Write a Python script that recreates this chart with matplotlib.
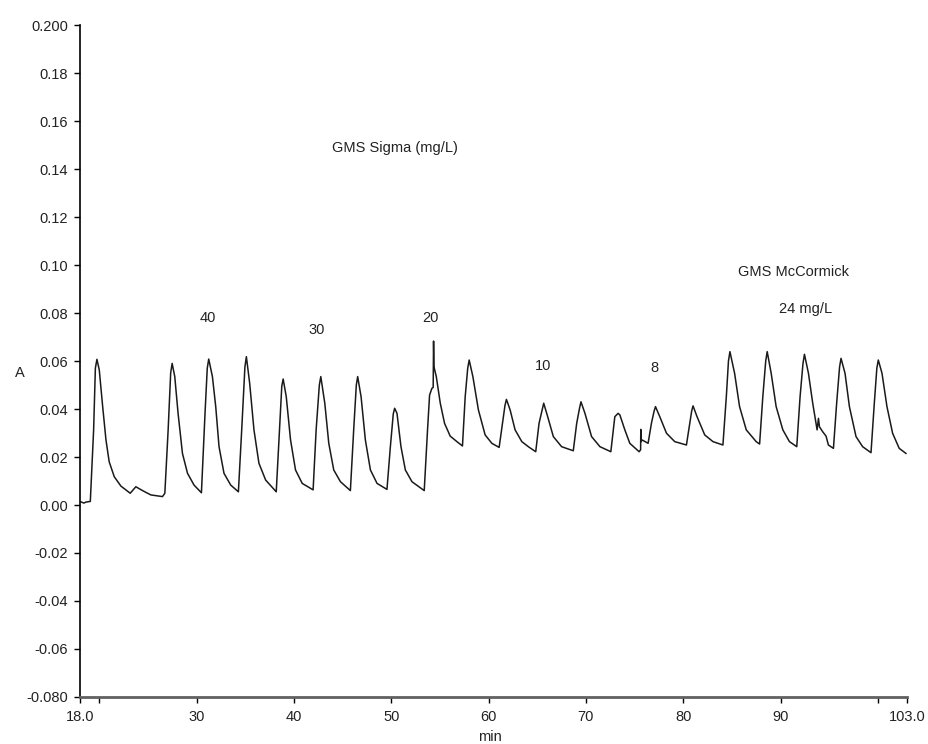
import matplotlib
matplotlib.use("Agg")
import matplotlib.pyplot as plt

plt.rcParams['font.family'] = ['Liberation Sans', 'DejaVu Sans']

# Trace vertices (time in min, absorbance A)
time_min = [
    18.10, 18.40, 18.60, 19.06, 19.40, 19.58, 19.74, 19.98, 20.33, 20.67, 21.00, 21.52, 22.20, 23.16,
    23.74, 24.43, 25.28, 26.48, 26.72, 27.06, 27.32, 27.47, 27.74, 28.08, 28.53, 29.05, 29.72,
    30.48, 30.85, 31.08, 31.23, 31.61, 31.95, 32.29, 32.80, 33.49, 34.28, 34.62, 34.95, 35.10, 35.44,
    35.88, 36.39, 37.08, 38.17, 38.51, 38.74, 38.88, 39.20, 39.64, 40.15, 40.84, 41.96, 42.27,
    42.60, 42.75, 43.16, 43.57, 44.08, 44.77, 45.79, 46.13, 46.40, 46.54, 46.89, 47.33, 47.85, 48.53,
    49.55, 49.90, 50.20, 50.34, 50.58, 50.99, 51.44, 52.12, 53.38, 53.72, 53.93, 54.17, 54.30,
    54.34, 54.38, 54.62, 55.03, 55.47, 56.05, 56.74, 57.31, 57.59, 57.85, 58.00, 58.38, 58.95,
    59.64, 60.33, 61.08, 61.42, 61.68, 61.83, 62.21, 62.72, 63.41, 64.08, 64.84, 65.18, 65.52, 65.66,
    66.07, 66.65, 67.50, 68.70, 69.05, 69.35, 69.49, 69.90, 70.58, 71.44, 72.56, 72.97, 73.31,
    73.49, 74.00, 74.51, 75.47, 75.62, 75.64, 75.67, 75.78, 76.39, 76.73, 77.00, 77.15, 77.59,
    78.28, 79.13, 80.33, 80.67, 80.87, 81.01, 81.42, 82.21, 83.06, 84.08, 84.43, 84.65, 84.80, 85.28,
    85.79, 86.48, 87.50, 87.85, 88.18, 88.48, 88.63, 89.04, 89.55, 90.24, 90.92, 91.67, 92.01,
    92.31, 92.46, 92.87, 93.31, 93.59, 93.76, 93.90, 94.00, 94.34, 94.68, 94.92, 95.44, 95.77,
    96.07, 96.22, 96.63, 97.08, 97.76, 98.44, 99.30, 99.64, 99.90, 100.05, 100.43, 100.94, 101.52,
    102.20, 102.89,
]
absorbance = [
    0.0013, 0.0008, 0.0012, 0.0015, 0.0313, 0.0570, 0.0607, 0.0563, 0.0410, 0.0271, 0.0180, 0.0118, 0.0079, 0.0049,
    0.0076, 0.0060, 0.0042, 0.0035, 0.0049, 0.0313, 0.0550, 0.0590, 0.0535, 0.0382, 0.0215, 0.0132, 0.0083,
    0.0051, 0.0382, 0.0570, 0.0608, 0.0535, 0.0410, 0.0243, 0.0132, 0.0083, 0.0055, 0.0313, 0.0575, 0.0618, 0.0507,
    0.0313, 0.0174, 0.0104, 0.0055, 0.0313, 0.0495, 0.0525, 0.0451, 0.0271, 0.0146, 0.0090, 0.0063, 0.0313,
    0.0500, 0.0535, 0.0424, 0.0257, 0.0146, 0.0097, 0.0060, 0.0313, 0.0500, 0.0535, 0.0451, 0.0271, 0.0146, 0.0090,
    0.0065, 0.0243, 0.0380, 0.0403, 0.0382, 0.0243, 0.0146, 0.0097, 0.0060, 0.0313, 0.0458, 0.0486, 0.0490,
    0.0683, 0.0576, 0.0535, 0.0424, 0.0340, 0.0287, 0.0264, 0.0246, 0.0451, 0.0570, 0.0604, 0.0535, 0.0396,
    0.0292, 0.0257, 0.0240, 0.0340, 0.0415, 0.0440, 0.0396, 0.0313, 0.0264, 0.0243, 0.0222, 0.0340, 0.0400, 0.0424,
    0.0368, 0.0285, 0.0243, 0.0226, 0.0340, 0.0405, 0.0430, 0.0382, 0.0285, 0.0243, 0.0222, 0.0368, 0.0382,
    0.0375, 0.0313, 0.0257, 0.0222, 0.0230, 0.0315, 0.0264, 0.0271, 0.0257, 0.0340, 0.0390, 0.0410, 0.0368,
    0.0299, 0.0264, 0.0250, 0.0340, 0.0392, 0.0413, 0.0368, 0.0292, 0.0264, 0.0250, 0.0451, 0.0600, 0.0639, 0.0549,
    0.0410, 0.0313, 0.0264, 0.0254, 0.0451, 0.0600, 0.0639, 0.0549, 0.0410, 0.0313, 0.0264, 0.0243, 0.0451,
    0.0590, 0.0628, 0.0549, 0.0424, 0.0354, 0.0313, 0.0361, 0.0326, 0.0305, 0.0287, 0.0250, 0.0236, 0.0424,
    0.0575, 0.0611, 0.0549, 0.0410, 0.0285, 0.0243, 0.0218, 0.0424, 0.0570, 0.0604, 0.0549, 0.0410, 0.0299,
    0.0236, 0.0215,
]

x_ticks = [18, 20, 30, 40, 50, 60, 70, 80, 90, 100, 103]
x_tick_labels = ["18.0", "", "30", "40", "50", "60", "70", "80", "90", "", "103.0"]
y_ticks = [-0.08, -0.06, -0.04, -0.02, 0.00, 0.02, 0.04, 0.06, 0.08, 0.10,
           0.12, 0.14, 0.16, 0.18, 0.20]
y_tick_labels = ["-0.080", "-0.06", "-0.04", "-0.02", "0.00", "0.02", "0.04", "0.06",
                 "0.08", "0.10", "0.12", "0.14", "0.16", "0.18", "0.200"]

annotations = [
    ("GMS Sigma (mg/L)", 50.4, 0.1487),
    ("40", 31.1, 0.078),
    ("30", 42.3, 0.0729),
    ("20", 54.0, 0.078),
    ("10", 65.6, 0.0579),
    ("8", 77.0, 0.0571),
    ("GMS McCormick", 91.3, 0.0971),
    ("24 mg/L", 92.6, 0.0817),
]

fig = plt.figure(figsize=(9.29, 7.44), dpi=100)
ax = fig.add_axes([80 / 929, 47 / 744, 827 / 929, 672 / 744])

ax.plot(time_min, absorbance, color="#1a1a1a", linewidth=1.1,
        solid_joinstyle="round")

ax.set_xlim(18, 103)
ax.set_ylim(-0.08, 0.20)
ax.set_xticks(x_ticks)
ax.set_xticklabels(x_tick_labels)
ax.set_yticks(y_ticks)
ax.set_yticklabels(y_tick_labels)

for s in ("top", "right"):
    ax.spines[s].set_visible(False)
ax.spines["left"].set_color("black")
ax.spines["left"].set_linewidth(1.2)
ax.spines["bottom"].set_color("#606060")
ax.spines["bottom"].set_linewidth(2.0)

ax.tick_params(axis="both", direction="out", length=4.5, width=1.0, color="black",
               labelsize=10.5, labelcolor="#222222")
ax.tick_params(axis="y", pad=4)
ax.tick_params(axis="x", pad=5)

for text, xv, yv in annotations:
    ax.text(xv, yv, text, ha="center", va="center", fontsize=10.5, color="#222222")

fig.text(15 / 929, 1 - 373 / 744, "A", ha="left", va="center", fontsize=10.5, color="#222222")
fig.text(490 / 929, 1 - 737 / 744, "min", ha="center", va="center", fontsize=10.5, color="#222222")

fig.savefig("out.png", dpi=100)
